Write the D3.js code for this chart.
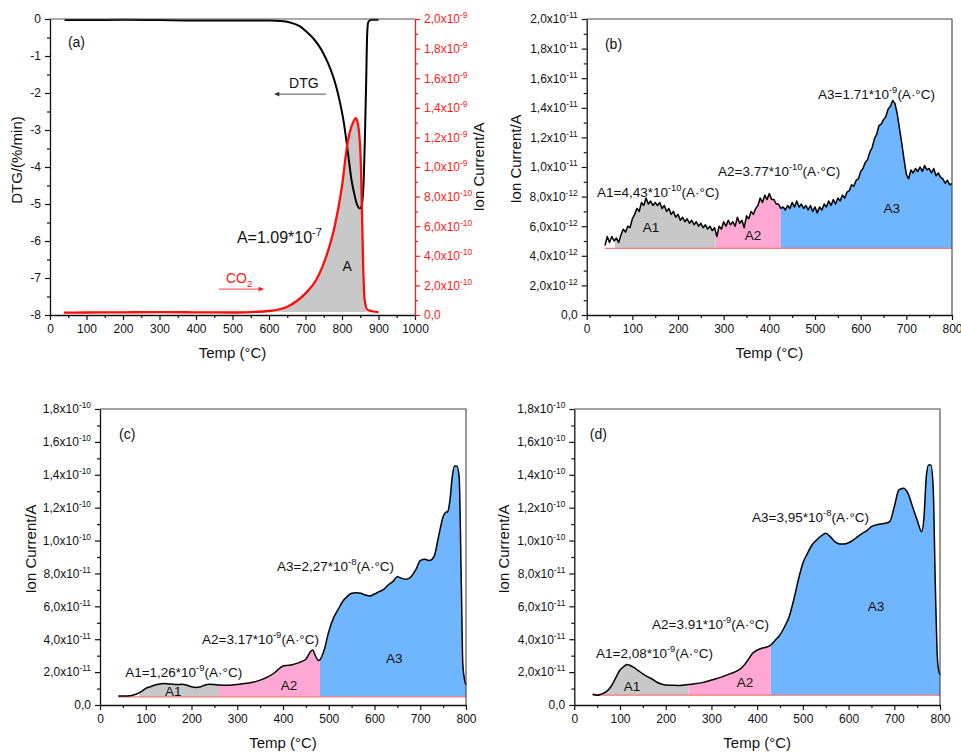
<!DOCTYPE html>
<html>
<head>
<meta charset="utf-8">
<script src="https://cdn.jsdelivr.net/npm/d3@7"></script>
<style>
body { margin: 0; background: #fff; }
svg { font-family: "Liberation Sans", Arial, sans-serif; }
</style>
</head>
<body>
<svg id="chart" width="961" height="754"></svg>
<script>
// ---- panel (a): DTG (%/min) and CO2 ion current (x1e-10 A) ----
const A_DTG_TEMP = [40, 100, 200, 300, 400, 500, 600, 640, 660, 685, 700, 721, 735, 749, 762, 776, 786, 795, 805, 813, 820, 826, 833, 840, 849, 852, 856, 860, 863, 866, 869, 872, 880, 900];
const A_DTG = [-0.03, -0.03, -0.02, -0.03, -0.04, -0.04, -0.04, -0.06, -0.1, -0.2, -0.32, -0.52, -0.7, -0.93, -1.2, -1.56, -1.9, -2.28, -2.8, -3.36, -3.9, -4.35, -4.7, -4.98, -5.12, -5.1, -4.9, -4.2, -3.1, -1.8, -0.4, -0.08, -0.02, -0.02];
const A_CO2_TEMP = [38, 100, 200, 300, 400, 500, 550, 600, 650, 700, 730, 760, 780, 800, 815, 830, 838, 845, 852, 858, 862, 870, 900];
const A_CO2 = [0.16, 0.17, 0.18, 0.2, 0.18, 0.17, 0.2, 0.27, 0.56, 1.46, 2.4, 4.2, 6, 8.7, 11.6, 13, 13.3, 12.7, 10, 3.3, 1, 0.34, 0.2];

// ---- panel (b): ion current (x1e-12 A) ----
const B_TEMP = [40, 45, 50, 55, 60, 65, 70, 75, 80, 85, 90, 95, 100, 105, 110, 115, 120, 125, 130, 135, 140, 145, 150, 155, 160, 165, 170, 175, 180, 185, 190, 195, 200, 205, 210, 215, 220, 225, 230, 235, 240, 245, 250, 255, 260, 265, 270, 275, 280, 285, 290, 295, 300, 305, 310, 315, 320, 325, 330, 335, 340, 345, 350, 355, 360, 365, 370, 375, 380, 385, 390, 395, 400, 405, 410, 415, 420, 425, 430, 435, 440, 445, 450, 455, 460, 465, 470, 475, 480, 485, 490, 495, 500, 505, 510, 515, 520, 525, 530, 535, 540, 545, 550, 555, 560, 565, 570, 575, 580, 585, 590, 595, 600, 605, 610, 615, 620, 625, 630, 635, 640, 645, 650, 655, 660, 665, 670, 675, 680, 685, 690, 695, 700, 705, 710, 715, 720, 725, 730, 735, 740, 745, 750, 755, 760, 765, 770, 775, 780, 785, 790, 795, 800];
const B_ION = [4.7, 5.3, 4.9, 5.3, 5.0, 5.2, 4.9, 5.4, 5.8, 5.6, 6.0, 5.9, 6.5, 6.8, 7.2, 7.0, 7.6, 7.4, 7.9, 7.5, 7.7, 7.4, 7.6, 7.4, 7.6, 7.2, 7.4, 7.0, 7.2, 6.8, 7.0, 6.6, 6.8, 6.4, 6.6, 6.3, 6.5, 6.2, 6.4, 6.1, 6.3, 6.0, 6.2, 5.9, 6.1, 5.8, 6.0, 5.7, 5.9, 5.3, 6.0, 5.8, 6.3, 6.0, 6.4, 6.1, 6.3, 6.0, 6.6, 6.2, 6.4, 5.9, 6.7, 6.5, 7.0, 6.8, 7.2, 7.4, 7.9, 7.6, 8.1, 7.8, 8.2, 7.8, 7.8, 7.5, 7.5, 7.2, 7.3, 7.1, 7.4, 7.2, 7.6, 7.3, 7.7, 7.3, 7.5, 7.2, 7.4, 7.1, 7.4, 7.0, 7.3, 6.9, 7.3, 7.1, 7.5, 7.3, 7.7, 7.4, 7.8, 7.5, 7.9, 7.7, 8.1, 7.9, 8.3, 8.4, 8.8, 8.7, 9.1, 9.2, 9.7, 9.9, 10.3, 10.5, 11.0, 11.3, 11.9, 12.2, 12.8, 12.9, 13.2, 13.4, 13.9, 14.1, 14.5, 14.3, 13.6, 12.6, 11.6, 10.5, 9.5, 9.2, 9.8, 9.6, 9.9, 9.7, 10.0, 9.7, 10.1, 9.8, 9.9, 9.6, 9.9, 9.4, 9.6, 9.3, 9.2, 8.9, 9.1, 8.8, 8.9];

// ---- panel (c): ion current (x1e-11 A) ----
const C_TEMP = [40, 60, 80, 90, 100, 110, 120, 130, 140, 150, 160, 170, 180, 190, 200, 210, 220, 230, 240, 250, 260, 280, 300, 320, 340, 360, 380, 390, 400, 410, 420, 430, 440, 450, 460, 465, 470, 478, 490, 500, 510, 520, 530, 540, 550, 560, 570, 580, 590, 600, 610, 620, 630, 640, 650, 660, 670, 680, 690, 700, 710, 720, 730, 740, 750, 755, 760, 765, 770, 775, 780, 785, 790, 793, 797, 800];
const C_ION = [0.55, 0.55, 0.67, 0.81, 1.01, 1.11, 1.22, 1.28, 1.3, 1.28, 1.26, 1.24, 1.26, 1.2, 1.11, 1.07, 1.11, 1.22, 1.26, 1.24, 1.22, 1.2, 1.24, 1.32, 1.42, 1.62, 1.93, 2.17, 2.37, 2.41, 2.45, 2.53, 2.64, 2.78, 3.24, 3.35, 3.04, 2.7, 3.35, 4.46, 5.27, 5.78, 6.28, 6.59, 6.79, 6.83, 6.79, 6.69, 6.63, 6.75, 6.89, 7.03, 7.3, 7.5, 7.8, 7.7, 7.64, 7.8, 8.21, 8.78, 8.86, 8.78, 9.02, 10.24, 11.45, 11.7, 11.76, 12.47, 13.89, 14.53, 14.53, 13.89, 7, 2.53, 1.52, 1.22];

// ---- panel (d): ion current (x1e-11 A) ----
const D_TEMP = [40, 50, 60, 70, 80, 90, 100, 110, 115, 120, 130, 140, 150, 160, 170, 180, 190, 200, 210, 220, 230, 240, 250, 260, 280, 300, 320, 340, 360, 370, 380, 390, 400, 410, 420, 430, 440, 450, 460, 470, 480, 490, 500, 510, 520, 530, 540, 550, 560, 570, 580, 590, 600, 610, 620, 630, 640, 650, 660, 670, 680, 690, 700, 710, 720, 730, 740, 750, 760, 765, 770, 775, 780, 785, 790, 795, 800];
const D_ION = [0.65, 0.6, 0.67, 0.81, 1.11, 1.62, 2.13, 2.37, 2.47, 2.43, 2.29, 2.09, 1.89, 1.72, 1.58, 1.4, 1.28, 1.22, 1.2, 1.2, 1.18, 1.22, 1.24, 1.28, 1.36, 1.52, 1.68, 1.89, 2.13, 2.37, 2.74, 3.14, 3.34, 3.45, 3.51, 3.65, 3.95, 4.26, 4.76, 5.37, 6.39, 7.6, 8.62, 9.22, 9.73, 10.03, 10.28, 10.44, 10.24, 9.93, 9.79, 9.79, 9.87, 10.03, 10.24, 10.44, 10.6, 10.85, 10.95, 11.01, 11.05, 11.15, 12.06, 13.08, 13.18, 12.87, 12.06, 11.25, 10.54, 11.45, 13.89, 14.6, 14.6, 13.28, 6.99, 2.53, 1.82];

// integration regions (start, A1|A2, A2|A3, end) and baselines
const B_BOUNDS = [62, 282, 425, 800];
const C_BOUNDS = [85, 260, 481, 800];
const D_BOUNDS = [63, 250, 430, 800];
const BASELINES = { b: 4.5, c: 0.5, d: 0.6 };
const AREA_COLORS = ['#c8c8c8', '#ffa8d4', '#70b6ff'];

// tick values
const X_TICKS_A = [0, 100, 200, 300, 400, 500, 600, 700, 800, 900, 1000];
const X_TICKS = [0, 100, 200, 300, 400, 500, 600, 700, 800];
const A_LEFT_TICKS = [-8, -7, -6, -5, -4, -3, -2, -1, 0];
const A_RIGHT_TICKS = [0, 2, 4, 6, 8, 10, 12, 14, 16, 18, 20];
const Y_TICKS = [0, 2, 4, 6, 8, 10, 12, 14, 16, 18, 20];
const Y_TICKS_CD = [0, 2, 4, 6, 8, 10, 12, 14, 16, 18];

const SVG = d3.select('#chart');
const FONT = 12;
const ANN = 13.5;   // annotation font size

// write text with sup / sub parts as tspans
function addParts(text, parts, fs) {
    text.text(null);
    let shift = 0;
    parts.forEach(([s, kind]) => {
        const ts = text.append('tspan').text(s);
        if (kind === 'sup') {
            ts.attr('dy', -fs * 0.42 - shift).attr('font-size', fs * 0.7);
            shift = -fs * 0.42;
        } else if (kind === 'sub') {
            ts.attr('dy', fs * 0.3 - shift).attr('font-size', fs * 0.7);
            shift = fs * 0.3;
        } else if (shift !== 0) {
            ts.attr('dy', -shift);
            shift = 0;
        }
    });
}

// "2,0x10-11" style label, v given in units of 10^unitExp
function sciParts(v, unitExp) {
    if (v === 0) return [['0,0', null]];
    let m = v, e = unitExp;
    if (Math.abs(v) >= 10) { m = v / 10; e = unitExp + 1; }
    return [[m.toFixed(1).replace('.', ',') + 'x10', null], [String(e), 'sup']];
}

function styleAxis(g, color) {
    g.attr('font-size', FONT).attr('font-family', null);
    g.select('.domain').attr('stroke', color).attr('stroke-width', 1.3);
    g.selectAll('.tick line').attr('stroke', color).attr('stroke-width', 1.2);
    g.selectAll('.tick text').attr('fill', color);
}

function minorValues(lo, hi, step) {
    const out = [];
    for (let v = lo; v <= hi + 1e-9; v += step) out.push(+v.toFixed(6));
    return out;
}

function xAxis(g, x, yPos, ticks) {
    const ax = g.append('g').attr('transform', `translate(0,${yPos})`)
        .call(d3.axisBottom(x).tickValues(ticks).tickSize(5).tickSizeOuter(0).tickPadding(4).tickFormat(d => String(d)));
    styleAxis(ax, '#111');
    const step = ticks[1] - ticks[0];
    const mn = g.append('g').attr('transform', `translate(0,${yPos})`)
        .call(d3.axisBottom(x).tickValues(minorValues(ticks[0] + step / 2, ticks[ticks.length - 1], step)).tickSize(3).tickFormat(''));
    mn.select('.domain').remove();
    styleAxis(mn, '#111');
}

function yAxisSci(g, y, xPos, ticks, unitExp, side, color) {
    const axisFn = side === 'left' ? d3.axisLeft : d3.axisRight;
    const ax = g.append('g').attr('transform', `translate(${xPos},0)`)
        .call(axisFn(y).tickValues(ticks).tickSize(5).tickSizeOuter(0).tickPadding(4));
    styleAxis(ax, color);
    if (unitExp !== null) {
        ax.selectAll('.tick text').each(function (d) {
            addParts(d3.select(this), sciParts(d, unitExp), FONT);
        });
    } else {
        ax.selectAll('.tick text').text(d => String(d));
    }
    const step = ticks[1] - ticks[0];
    const mn = g.append('g').attr('transform', `translate(${xPos},0)`)
        .call(axisFn(y).tickValues(minorValues(ticks[0] + step / 2, ticks[ticks.length - 1], step)).tickSize(3).tickFormat(''));
    mn.select('.domain').remove();
    styleAxis(mn, color);
}

function label(g, xp, yp, parts, fs, anchor, color) {
    const t = g.append('text').attr('x', xp).attr('y', yp)
        .attr('font-size', fs).attr('text-anchor', anchor || 'start').attr('fill', color || '#111');
    addParts(t, parts, fs);
    return t;
}

function axisTitle(g, xp, yp, text, rotate) {
    g.append('text')
        .attr('transform', `translate(${xp},${yp})` + (rotate ? ' rotate(-90)' : ''))
        .attr('text-anchor', 'middle').attr('font-size', 15).attr('fill', '#111')
        .text(text);
}

// arrow markers
const defs = SVG.append('defs');
[['arrowBlack', '#333'], ['arrowRed', '#ff1a1a']].forEach(([id, c]) => {
    defs.append('marker').attr('id', id).attr('viewBox', '0 0 10 10')
        .attr('refX', 9).attr('refY', 5).attr('markerWidth', 7).attr('markerHeight', 5)
        .attr('orient', 'auto-start-reverse')
        .append('path').attr('d', 'M0,0 L10,5 L0,10 z').attr('fill', c);
});

// ---------- ion current panel (b, c, d) ----------
function ionPanel(cfg) {
    const g = SVG.append('g').attr('id', 'panel_' + cfg.id);
    const x = d3.scaleLinear().domain([0, 800]).range([cfg.left, cfg.right]);
    const y = d3.scaleLinear().domain([0, cfg.yMax]).range([cfg.bottom, cfg.top]);
    const pts = cfg.temp.map((t, i) => [t, cfg.values[i]]);
    const base = BASELINES[cfg.id];

    const area = d3.area().x(d => x(d[0])).y0(y(base)).y1(d => y(d[1])).curve(cfg.curve);
    const b = cfg.bounds;
    for (let k = 0; k < 3; k++) {
        const cid = `clip_${cfg.id}_${k}`;
        defs.append('clipPath').attr('id', cid).append('rect')
            .attr('x', x(b[k])).attr('width', x(b[k + 1]) - x(b[k]))
            .attr('y', cfg.top).attr('height', cfg.bottom - cfg.top);
        g.append('path').datum(pts).attr('d', area).attr('fill', AREA_COLORS[k])
            .attr('clip-path', `url(#${cid})`);
    }
    // baseline
    g.append('line').attr('x1', x(cfg.temp[0])).attr('x2', x(800))
        .attr('y1', y(base)).attr('y2', y(base)).attr('stroke', '#f07a7a').attr('stroke-width', 1.2);
    g.append('path').datum(pts)
        .attr('d', d3.line().x(d => x(d[0])).y(d => y(d[1])).curve(cfg.curve))
        .attr('fill', 'none').attr('stroke', '#000').attr('stroke-width', 1.5).attr('stroke-linejoin', 'round');

    // frame
    g.append('path').attr('d', `M${cfg.left},${cfg.top}H${cfg.right}V${cfg.bottom}`)
        .attr('fill', 'none').attr('stroke', '#444').attr('stroke-width', 1.1);
    xAxis(g, x, cfg.bottom, X_TICKS);
    yAxisSci(g, y, cfg.left, cfg.yTicks, cfg.unitExp, 'left', '#111');

    axisTitle(g, (cfg.left + cfg.right) / 2, cfg.bottom + 43, 'Temp (°C)', false);
    axisTitle(g, cfg.yTitleX, (cfg.top + cfg.bottom) / 2 - 8, 'Ion Current/A', true);

    cfg.labels.forEach(l => label(g, x(l.t), y(l.v), l.parts, l.fs, l.anchor));
}

const AC = '(A·°C)';

ionPanel({
    id: 'b', left: 586.7, right: 952, top: 19, bottom: 315,
    yMax: 20, yTicks: Y_TICKS, unitExp: -12, temp: B_TEMP, values: B_ION,
    bounds: B_BOUNDS, curve: d3.curveLinear, yTitleX: 521,
    labels: [
        { t: 40, v: 18.0, parts: [['(b)', null]], fs: 14 },
        { t: 22.6, v: 7.97, parts: [['A1=4,43*10', null], ['-10', 'sup'], [AC, null]], fs: ANN },
        { t: 287.6, v: 9.39, parts: [['A2=3.77*10', null], ['-10', 'sup'], [AC, null]], fs: ANN },
        { t: 506.6, v: 14.6, parts: [['A3=1.71*10', null], ['-9', 'sup'], [AC, null]], fs: ANN },
        { t: 141, v: 5.6, parts: [['A1', null]], fs: ANN, anchor: 'middle' },
        { t: 364, v: 5.07, parts: [['A2', null]], fs: ANN, anchor: 'middle' },
        { t: 668, v: 6.9, parts: [['A3', null]], fs: ANN, anchor: 'middle' }
    ]
});

ionPanel({
    id: 'c', left: 100, right: 466, top: 409, bottom: 705,
    yMax: 18, yTicks: Y_TICKS_CD, unitExp: -11, temp: C_TEMP, values: C_ION,
    bounds: C_BOUNDS, curve: d3.curveMonotoneX, yTitleX: 36,
    labels: [
        { t: 41.5, v: 16.2, parts: [['(c)', null]], fs: 14 },
        { t: 55, v: 1.7, parts: [['A1=1,26*10', null], ['-9', 'sup'], [AC, null]], fs: ANN },
        { t: 223, v: 3.7, parts: [['A2=3.17*10', null], ['-9', 'sup'], [AC, null]], fs: ANN },
        { t: 387, v: 8.15, parts: [['A3=2,27*10', null], ['-8', 'sup'], [AC, null]], fs: ANN },
        { t: 160, v: 0.55, parts: [['A1', null]], fs: ANN, anchor: 'middle' },
        { t: 413, v: 0.9, parts: [['A2', null]], fs: ANN, anchor: 'middle' },
        { t: 643, v: 2.55, parts: [['A3', null]], fs: ANN, anchor: 'middle' }
    ]
});

ionPanel({
    id: 'd', left: 574.3, right: 940, top: 409, bottom: 705,
    yMax: 18, yTicks: Y_TICKS_CD, unitExp: -11, temp: D_TEMP, values: D_ION,
    bounds: D_BOUNDS, curve: d3.curveMonotoneX, yTitleX: 509,
    labels: [
        { t: 34, v: 16.2, parts: [['(d)', null]], fs: 14 },
        { t: 47.5, v: 2.86, parts: [['A1=2,08*10', null], ['-9', 'sup'], [AC, null]], fs: ANN },
        { t: 170, v: 4.62, parts: [['A2=3.91*10', null], ['-9', 'sup'], [AC, null]], fs: ANN },
        { t: 389, v: 11.15, parts: [['A3=3,95*10', null], ['-8', 'sup'], [AC, null]], fs: ANN },
        { t: 126, v: 0.85, parts: [['A1', null]], fs: ANN, anchor: 'middle' },
        { t: 373.5, v: 1.11, parts: [['A2', null]], fs: ANN, anchor: 'middle' },
        { t: 660, v: 5.72, parts: [['A3', null]], fs: ANN, anchor: 'middle' }
    ]
});

// ---------- panel (a) ----------
(function () {
    const L = 50, R = 415, T = 19, B = 315;
    const g = SVG.append('g').attr('id', 'panel_a');
    const x = d3.scaleLinear().domain([0, 1000]).range([L, R]);
    const yl = d3.scaleLinear().domain([-8, 0]).range([B, T]);
    const yr = d3.scaleLinear().domain([0, 20]).range([B, T]);
    const co2 = A_CO2_TEMP.map((t, i) => [t, A_CO2[i]]);
    const dtg = A_DTG_TEMP.map((t, i) => [t, A_DTG[i]]);

    defs.append('clipPath').attr('id', 'clip_a').append('rect')
        .attr('x', x(600)).attr('width', x(866) - x(600)).attr('y', T).attr('height', B - T);
    g.append('path').datum(co2)
        .attr('d', d3.area().x(d => x(d[0])).y0(yr(0.2)).y1(d => yr(d[1])).curve(d3.curveMonotoneX))
        .attr('fill', '#c8c8c8').attr('clip-path', 'url(#clip_a)');

    g.append('path').datum(dtg)
        .attr('d', d3.line().x(d => x(d[0])).y(d => yl(d[1])).curve(d3.curveMonotoneX))
        .attr('fill', 'none').attr('stroke', '#000').attr('stroke-width', 2);
    g.append('path').datum(co2)
        .attr('d', d3.line().x(d => x(d[0])).y(d => yr(d[1])).curve(d3.curveMonotoneX))
        .attr('fill', 'none').attr('stroke', '#ff0d0d').attr('stroke-width', 2.3);

    g.append('line').attr('x1', L).attr('x2', R).attr('y1', T).attr('y2', T)
        .attr('stroke', '#555').attr('stroke-width', 1.1);
    xAxis(g, x, B, X_TICKS_A);
    yAxisSci(g, yl, L, A_LEFT_TICKS, null, 'left', '#111');
    yAxisSci(g, yr, R, A_RIGHT_TICKS, -10, 'right', '#ff1a1a');

    axisTitle(g, (L + R) / 2, B + 43, 'Temp (°C)', false);
    axisTitle(g, 22, 160, 'DTG/(%/min)', true);
    axisTitle(g, 484, 167, 'Ion Current/A', true);

    label(g, x(49), yl(-0.76), [['(a)', null]], 14);
    label(g, x(655), yl(-1.86), [['DTG', null]], 14);
    g.append('line').attr('x1', x(756)).attr('x2', x(616)).attr('y1', yl(-2.03)).attr('y2', yl(-2.03))
        .attr('stroke', '#555').attr('stroke-width', 1).attr('marker-end', 'url(#arrowBlack)');
    label(g, x(512), yl(-6.05), [['A=1.09*10', null], ['-7', 'sup']], 16);
    label(g, x(814), yl(-6.81), [['A', null]], 14, 'middle');
    label(g, x(482), yl(-7.14), [['CO', null], ['2', 'sub']], 14, 'start', '#ff1a1a');
    g.append('line').attr('x1', x(463)).attr('x2', x(584)).attr('y1', yl(-7.3)).attr('y2', yl(-7.3))
        .attr('stroke', '#ff4040').attr('stroke-width', 1).attr('marker-end', 'url(#arrowRed)');
})();
</script>
</body>
</html>
